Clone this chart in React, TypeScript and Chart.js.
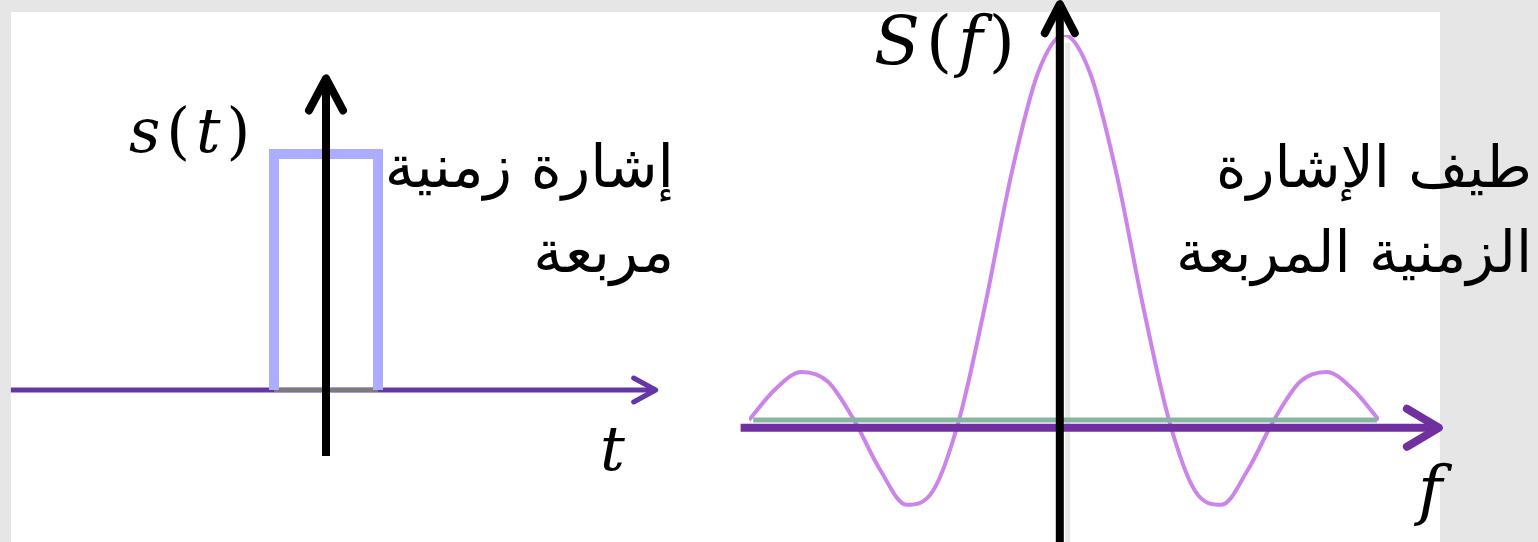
import React, { useEffect, useRef } from "react";
import { Chart, registerables } from "chart.js";

Chart.register(...registerables);

// ---- Data ----
// Time-domain square pulse s(t)
const PULSE_T = [-0.5, -0.5, 0.5, 0.5];
const PULSE_S = [0, 1, 1, 0];

// Spectrum S(f)
const FREQ = [
  -3, -2.75, -2.5, -2.25, -2, -1.75, -1.5, -1.25, -1, -0.75, -0.5, -0.25, 0,
  0.25, 0.5, 0.75, 1, 1.25, 1.5, 1.75, 2, 2.25, 2.5, 2.75, 3,
];
const SPECTRUM = [
  0, 0.08, 0.125, 0.1, 0, -0.13, -0.22, -0.185, 0, 0.3, 0.64, 0.9, 1,
  0.9, 0.64, 0.3, 0, -0.185, -0.22, -0.13, 0, 0.1, 0.125, 0.08, 0,
];
const ZERO_F = [-2.96, 2.98];
const ZERO_S = [0, 0];

// Text
const TIME_Y_LABEL: [string, boolean][] = [["s", true], ["(", false], ["t", true], [")", false]];
const TIME_X_LABEL = "t";
const FREQ_Y_LABEL: [string, boolean][] = [["S", true], ["(", false], ["f", true], [")", false]];
const FREQ_X_LABEL = "f";
const TIME_TITLE = ["إشارة زمنية", "مربعة"];
const FREQ_TITLE = ["طيف الإشارة", "الزمنية المربعة"];

const ARABIC_FONT = '"DejaVu Sans", "Noto Sans", sans-serif';
const MATH_FONT = '"DejaVu Serif", "Liberation Serif", serif';

function drawArrow(
  ctx: CanvasRenderingContext2D,
  x0: number, y0: number, x1: number, y1: number,
  back: number, half: number, color: string, width: number
) {
  ctx.save();
  ctx.strokeStyle = color;
  ctx.lineWidth = width;
  ctx.lineCap = "butt";
  ctx.beginPath();
  ctx.moveTo(x0, y0);
  ctx.lineTo(x1, y1);
  ctx.stroke();
  const ang = Math.atan2(y1 - y0, x1 - x0);
  const ux = Math.cos(ang), uy = Math.sin(ang);
  const px = -uy, py = ux;
  ctx.lineCap = "round";
  ctx.lineJoin = "round";
  ctx.beginPath();
  ctx.moveTo(x1 - ux * back + px * half, y1 - uy * back + py * half);
  ctx.lineTo(x1, y1);
  ctx.lineTo(x1 - ux * back - px * half, y1 - uy * back - py * half);
  ctx.stroke();
  ctx.restore();
}

function drawMath(
  ctx: CanvasRenderingContext2D,
  parts: [string, boolean][], x: number, baseline: number, size: number, gap: number
) {
  ctx.save();
  ctx.fillStyle = "#000";
  ctx.textAlign = "left";
  ctx.textBaseline = "alphabetic";
  let cx = x;
  for (const [txt, italic] of parts) {
    ctx.font = `${italic ? "italic " : ""}${size}px ${MATH_FONT}`;
    ctx.fillText(txt, cx, baseline);
    cx += ctx.measureText(txt).width + gap;
  }
  ctx.restore();
}

function drawArabic(
  ctx: CanvasRenderingContext2D, lines: string[], right: number,
  baselines: number[], size: number
) {
  ctx.save();
  ctx.fillStyle = "#000";
  ctx.font = `${size}px ${ARABIC_FONT}`;
  ctx.direction = "rtl";
  ctx.textAlign = "right";
  ctx.textBaseline = "alphabetic";
  lines.forEach((l, i) => ctx.fillText(l, right, baselines[i]));
  ctx.restore();
}

const baseOptions = (xmin: number, xmax: number, ymin: number, ymax: number, padding: any) => ({
  responsive: false,
  animation: false as const,
  layout: { padding },
  plugins: { legend: { display: false }, tooltip: { enabled: false }, title: { display: false } },
  elements: { point: { radius: 0 } },
  scales: {
    x: { type: "linear" as const, min: xmin, max: xmax, display: false },
    y: { type: "linear" as const, min: ymin, max: ymax, display: false },
  },
});

function TimeChart() {
  const ref = useRef<HTMLCanvasElement>(null);
  useEffect(() => {
    if (!ref.current) return;
    const plugin = {
      id: "timeAxes",
      beforeDatasetsDraw(chart: any) {
        const { ctx, scales } = chart;
        const x = scales.x, y = scales.y;
        const y0 = y.getPixelForValue(0);
        drawArrow(ctx, x.getPixelForValue(-3.03), y0, x.getPixelForValue(3.17), y0, 22, 12, "#6536a6", 5);
      },
      afterDatasetsDraw(chart: any) {
        const { ctx, scales } = chart;
        const x = scales.x, y = scales.y;
        const x0 = x.getPixelForValue(0);
        drawArrow(ctx, x0, y.getPixelForValue(-0.28), x0, y.getPixelForValue(1.32), 32, 17, "#000", 8);
        drawMath(ctx, TIME_Y_LABEL, 129, 152, 61, 6);
        drawMath(ctx, [[TIME_X_LABEL, true]], 600, 470, 62, 0);
        drawArabic(ctx, TIME_TITLE, 674, [187, 272], 59);
      },
    };
    const chart = new Chart(ref.current, {
      type: "line",
      data: {
        datasets: [
          {
            data: PULSE_T.map((t, i) => ({ x: t, y: PULSE_S[i] })),
            borderColor: "#adadff",
            borderWidth: 10,
            fill: false,
            tension: 0,
            borderJoinStyle: "miter",
          },
          {
            data: [{ x: -0.5, y: 0 }, { x: 0.5, y: 0 }],
            borderColor: "#7a7a7a",
            borderWidth: 4,
            fill: false,
          },
        ],
      },
      options: baseOptions(-3, 3, -0.5, 1.5, { left: 14, right: 62, top: 36, bottom: 34 }) as any,
      plugins: [plugin],
    });
    return () => chart.destroy();
  }, []);
  return <canvas ref={ref} width={700} height={542} style={{ position: "absolute", left: 0, top: 0 }} />;
}

function FreqChart() {
  const ref = useRef<HTMLCanvasElement>(null);
  useEffect(() => {
    if (!ref.current) return;
    const OFF = 700;
    const plugin = {
      id: "freqAxes",
      beforeDatasetsDraw(chart: any) {
        const { ctx, scales } = chart;
        const x = scales.x, y = scales.y;
        const x0 = x.getPixelForValue(-0.04);
        ctx.save();
        ctx.strokeStyle = "#e8e8e8";
        ctx.lineWidth = 5;
        ctx.beginPath();
        ctx.moveTo(x0 + 8, y.getPixelForValue(0.98));
        ctx.lineTo(x0 + 8, 542);
        ctx.stroke();
        ctx.restore();
      },
      afterDatasetsDraw(chart: any) {
        const { ctx, scales } = chart;
        const x = scales.x, y = scales.y;
        const ya = y.getPixelForValue(-0.02);
        drawArrow(ctx, x.getPixelForValue(-3.08), ya, x.getPixelForValue(3.57), ya, 32, 19, "#7030a0", 8);
        const x0 = x.getPixelForValue(-0.04);
        drawArrow(ctx, x0, 542, x0, y.getPixelForValue(1.08), 29, 15, "#000", 8);
        drawMath(ctx, FREQ_Y_LABEL, 874 - OFF, 64, 67, 6);
        drawMath(ctx, [[FREQ_X_LABEL, true]], 1418 - OFF, 512, 66, 0);
        drawArabic(ctx, FREQ_TITLE, 1532 - OFF, [187, 272], 58);
      },
    };
    const chart = new Chart(ref.current, {
      type: "line",
      data: {
        datasets: [
          {
            data: ZERO_F.map((f, i) => ({ x: f, y: ZERO_S[i] })),
            borderColor: "#86b6a2",
            borderWidth: 5,
            fill: false,
          },
          {
            data: FREQ.map((f, i) => ({ x: f, y: SPECTRUM[i] })),
            borderColor: "rgba(180,80,225,0.7)",
            borderWidth: 4,
            fill: false,
            cubicInterpolationMode: "monotone",
          },
        ],
      },
      options: baseOptions(-3, 3, -0.3, 1, { left: 49, right: 159, top: 35, bottom: 6.5 }) as any,
      plugins: [plugin],
    });
    return () => chart.destroy();
  }, []);
  return <canvas ref={ref} width={838} height={542} style={{ position: "absolute", left: 700, top: 0 }} />;
}

export default function App() {
  return (
    <div
      style={{
        position: "fixed",
        left: 0,
        top: 0,
        width: 1538,
        height: 542,
        background: "#e6e6e6",
        overflow: "hidden",
      }}
    >
      <div style={{ position: "absolute", left: 11, top: 12, width: 1429, height: 530, background: "#fff" }} />
      <TimeChart />
      <FreqChart />
    </div>
  );
}
